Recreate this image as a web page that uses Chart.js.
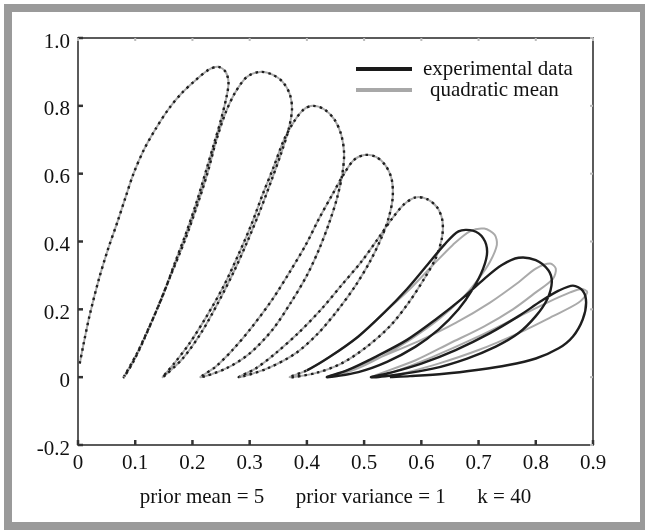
<!DOCTYPE html>
<html>
<head>
<meta charset="utf-8">
<script src="https://cdn.jsdelivr.net/npm/chart.js@4.4.1/dist/chart.umd.min.js"></script>
<style>
  html, body { margin: 0; padding: 0; background: #fff; }
  #wrap { position: relative; width: 645px; height: 530px; overflow: hidden; }
  #frame { position: absolute; left: 4px; top: 4px; width: 628px; height: 510px; border: 8px solid #9a9a9a; }
  #chart { position: absolute; left: 0; top: 0; }
</style>
</head>
<body>
<div id="wrap">
  <div id="frame"></div>
  <canvas id="chart" width="645" height="530"></canvas>
</div>
<script>
// osy
const xTicks = [0, 0.1, 0.2, 0.3, 0.4, 0.5, 0.6, 0.7, 0.8, 0.9];
const xTickLabels = ['0', '0.1', '0.2', '0.3', '0.4', '0.5', '0.6', '0.7', '0.8', '0.9'];
const yTicks = [-0.2, 0, 0.2, 0.4, 0.6, 0.8, 1.0];
const yTickLabels = ['-0.2', '0', '0.2', '0.4', '0.6', '0.8', '1.0'];
const caption = 'prior mean = 5      prior variance = 1      k = 40';

// experimental data - jednotlive smycky (stoupani + klesani)
const loop1 = [[0.003,0.04],[0.01,0.1],[0.02,0.18],[0.036,0.286],[0.052,0.375],[0.07,0.463],[0.083,0.53],[0.097,0.6],[0.115,0.67],[0.135,0.73],[0.158,0.79],[0.181,0.837],[0.205,0.875],[0.228,0.906],[0.245,0.915],[0.258,0.9],[0.263,0.87],[0.26,0.83],[0.25,0.76],[0.238,0.69],[0.224,0.61],[0.208,0.52],[0.19,0.43],[0.17,0.34],[0.148,0.24],[0.125,0.15],[0.103,0.07],[0.08,0.0]];
const loop2 = [[0.095,0.04],[0.115,0.11],[0.138,0.2],[0.162,0.3],[0.186,0.4],[0.207,0.5],[0.226,0.6],[0.242,0.7],[0.258,0.78],[0.275,0.84],[0.295,0.885],[0.318,0.9],[0.34,0.892],[0.358,0.87],[0.37,0.835],[0.374,0.79],[0.368,0.73],[0.355,0.66],[0.338,0.58],[0.318,0.49],[0.296,0.4],[0.272,0.31],[0.245,0.22],[0.215,0.13],[0.183,0.055],[0.148,0.0]];
const loop3 = [[0.168,0.04],[0.195,0.1],[0.225,0.18],[0.255,0.27],[0.28,0.36],[0.303,0.45],[0.323,0.54],[0.342,0.62],[0.36,0.7],[0.378,0.755],[0.395,0.79],[0.41,0.8],[0.43,0.79],[0.448,0.76],[0.46,0.715],[0.465,0.66],[0.462,0.6],[0.453,0.53],[0.44,0.46],[0.422,0.38],[0.4,0.3],[0.372,0.22],[0.34,0.14],[0.3,0.07],[0.258,0.025],[0.214,0.0]];
const loop4 = [[0.24,0.03],[0.27,0.08],[0.305,0.15],[0.34,0.23],[0.37,0.31],[0.398,0.39],[0.422,0.47],[0.445,0.54],[0.465,0.6],[0.482,0.64],[0.5,0.655],[0.52,0.65],[0.537,0.625],[0.548,0.585],[0.55,0.53],[0.543,0.47],[0.53,0.41],[0.51,0.34],[0.485,0.27],[0.455,0.2],[0.42,0.13],[0.38,0.07],[0.33,0.025],[0.281,0.0]];
const loop5 = [[0.31,0.025],[0.345,0.07],[0.385,0.13],[0.425,0.2],[0.46,0.27],[0.495,0.34],[0.525,0.41],[0.55,0.47],[0.57,0.51],[0.59,0.53],[0.61,0.525],[0.628,0.5],[0.637,0.46],[0.636,0.41],[0.625,0.35],[0.605,0.29],[0.578,0.22],[0.545,0.15],[0.505,0.09],[0.46,0.04],[0.415,0.012],[0.37,0.0]];
const loop6 = [[0.4,0.02],[0.44,0.06],[0.49,0.12],[0.535,0.19],[0.575,0.26],[0.61,0.33],[0.64,0.39],[0.665,0.43],[0.69,0.432],[0.708,0.41],[0.715,0.37],[0.708,0.32],[0.69,0.26],[0.665,0.2],[0.63,0.14],[0.59,0.09],[0.54,0.045],[0.49,0.015],[0.435,0.0]];
const loop7 = [[0.47,0.02],[0.52,0.06],[0.575,0.11],[0.625,0.17],[0.67,0.23],[0.71,0.29],[0.74,0.33],[0.77,0.352],[0.8,0.345],[0.822,0.315],[0.828,0.28],[0.82,0.23],[0.8,0.18],[0.77,0.13],[0.73,0.09],[0.68,0.055],[0.62,0.025],[0.56,0.008],[0.512,0.0]];
const loop8 = [[0.55,0.015],[0.6,0.04],[0.66,0.08],[0.72,0.13],[0.77,0.18],[0.81,0.225],[0.84,0.255],[0.865,0.27],[0.882,0.255],[0.888,0.22],[0.882,0.17],[0.865,0.12],[0.84,0.085],[0.8,0.055],[0.75,0.035],[0.7,0.022],[0.64,0.01],[0.58,0.003],[0.545,0.0]];

// quadratic mean - prvnich 5 smycek splyva s daty, posledni tri se lisi
const meanLoop6 = [[0.4,0.02],[0.44,0.06],[0.49,0.12],[0.535,0.19],[0.58,0.26],[0.62,0.33],[0.655,0.39],[0.685,0.43],[0.71,0.438],[0.728,0.42],[0.732,0.39],[0.72,0.34],[0.7,0.29],[0.67,0.23],[0.63,0.17],[0.58,0.11],[0.53,0.06],[0.48,0.02],[0.435,0.0]];
const meanLoop7 = [[0.47,0.02],[0.53,0.06],[0.6,0.11],[0.66,0.16],[0.72,0.22],[0.77,0.28],[0.8,0.32],[0.825,0.335],[0.835,0.32],[0.83,0.29],[0.8,0.25],[0.76,0.2],[0.71,0.15],[0.65,0.1],[0.59,0.05],[0.512,0.0]];
const meanLoop8 = [[0.55,0.015],[0.62,0.06],[0.7,0.12],[0.76,0.17],[0.82,0.22],[0.86,0.25],[0.88,0.26],[0.89,0.25],[0.875,0.22],[0.83,0.18],[0.77,0.13],[0.7,0.08],[0.63,0.04],[0.545,0.0]];

const dashedLoops = [loop1, loop2, loop3, loop4, loop5];
const solidLoops = [loop6, loop7, loop8];
const meanLoops = [loop1, loop2, loop3, loop4, loop5, meanLoop6, meanLoop7, meanLoop8];

const toPoints = loops => loops.flat().map(p => ({ x: p[0], y: p[1] }));
const dashedCount = dashedLoops.flat().length;

const serif = "'Liberation Serif', 'Times New Roman', Times, serif";
const fontSize = 21;
Chart.defaults.font.family = serif;
Chart.defaults.font.size = fontSize;
Chart.defaults.color = '#111';

// ramecek grafu, vnitrni znacky a legenda
const boxPlugin = {
    id: 'boxAndTicks',
    afterDraw(chart) {
        const { ctx, chartArea: a, scales: { x, y } } = chart;
        ctx.save();
        ctx.strokeStyle = '#333';
        ctx.lineWidth = 1.6;
        ctx.strokeRect(a.left, a.top, a.right - a.left, a.bottom - a.top);

        const seg = (x1, y1, x2, y2) => {
            ctx.beginPath();
            ctx.moveTo(x1, y1);
            ctx.lineTo(x2, y2);
            ctx.stroke();
        };
        ctx.lineWidth = 2.5;
        xTicks.forEach(v => {
            const px = x.getPixelForValue(v);
            seg(px, a.bottom, px, a.bottom - 5);
        });
        yTicks.forEach(v => {
            const py = y.getPixelForValue(v);
            seg(a.left, py, a.left + 5, py);
        });
        ctx.strokeStyle = '#bbb';
        ctx.lineWidth = 2;
        xTicks.forEach(v => {
            const px = x.getPixelForValue(v);
            seg(px, a.top, px, a.top + 3);
        });
        yTicks.forEach(v => {
            const py = y.getPixelForValue(v);
            seg(a.right, py, a.right - 3, py);
        });

        // legenda
        const legendX = 356, legendY = 69, rowGap = 21;
        ctx.font = fontSize + 'px ' + serif;
        ctx.textBaseline = 'middle';
        ctx.textAlign = 'left';
        chart.data.datasets.forEach((ds, i) => {
            const ly = legendY + i * rowGap;
            ctx.strokeStyle = ds.legendColor;
            ctx.lineWidth = 4;
            seg(legendX, ly, legendX + 56, ly);
            ctx.fillStyle = '#111';
            ctx.fillText(ds.label, legendX + 67 + i * 7, ly);
        });
        ctx.restore();
    }
};

const ctx = document.getElementById('chart').getContext('2d');
new Chart(ctx, {
    type: 'scatter',
    data: {
        datasets: [
            {
                label: 'experimental data',
                data: toPoints([...dashedLoops, ...solidLoops]),
                showLine: true,
                borderColor: '#1e1e1e',
                legendColor: '#1a1a1a',
                borderWidth: 2.4,
                pointRadius: 0,
                tension: 0.3,
                segment: {
                    borderDash: c => c.p0DataIndex < dashedCount ? [2.5, 4] : []
                }
            },
            {
                label: 'quadratic mean',
                data: toPoints(meanLoops),
                showLine: true,
                borderColor: '#aaaaaa',
                legendColor: '#a8a8a8',
                borderWidth: 2,
                pointRadius: 0,
                tension: 0.3
            }
        ]
    },
    options: {
        responsive: false,
        animation: false,
        layout: { padding: { left: 0, right: 52, top: 38, bottom: 0 } },
        plugins: {
            legend: { display: false },
            tooltip: { enabled: false }
        },
        scales: {
            x: {
                type: 'linear',
                min: 0,
                max: 0.9,
                afterBuildTicks: s => { s.ticks = xTicks.map(v => ({ value: v })); },
                afterFit: s => { s.height = 85; },
                ticks: {
                    callback: (v, i) => xTickLabels[i],
                    font: { family: serif, size: fontSize },
                    color: '#111',
                    padding: 6,
                    maxRotation: 0
                },
                grid: { display: false, drawTicks: false },
                border: { display: false },
                title: {
                    display: true,
                    text: caption,
                    font: { family: serif, size: fontSize },
                    color: '#111',
                    padding: { top: 0, bottom: 20 }
                }
            },
            y: {
                type: 'linear',
                min: -0.2,
                max: 1.0,
                afterBuildTicks: s => { s.ticks = yTicks.map(v => ({ value: v })); },
                afterFit: s => { s.width = 78; },
                ticks: {
                    callback: (v, i) => yTickLabels[i],
                    font: { family: serif, size: fontSize },
                    color: '#111',
                    padding: 8,
                    labelOffset: 4
                },
                grid: { display: false, drawTicks: false },
                border: { display: false }
            }
        }
    },
    plugins: [boxPlugin]
});
</script>
</body>
</html>
